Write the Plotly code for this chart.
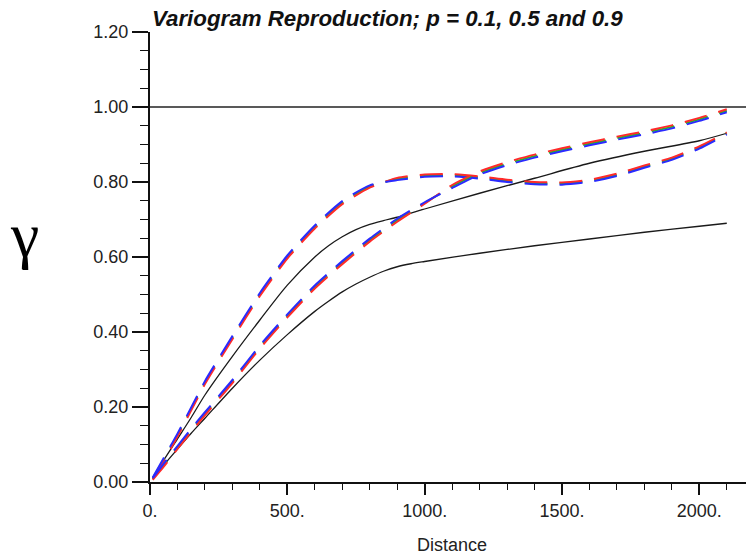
import plotly.graph_objects as go

# ---------------- data ----------------
lag = [10, 50, 100, 150, 200, 300, 400, 500, 600, 700, 800, 900, 1000,
       1100, 1200, 1300, 1400, 1500, 1600, 1700, 1800, 1900, 2000, 2100]

# fast-rising experimental variogram (hole effect), three colours
fast_red = [0.008, 0.056, 0.121, 0.191, 0.261, 0.381, 0.496, 0.596, 0.676, 0.741, 0.785, 0.811, 0.820,
            0.821, 0.815, 0.806, 0.800, 0.799, 0.806, 0.822, 0.844, 0.865, 0.895, 0.932]
fast_green = [0.010, 0.060, 0.125, 0.195, 0.265, 0.385, 0.500, 0.600, 0.680, 0.745, 0.788, 0.808, 0.817,
              0.818, 0.812, 0.803, 0.797, 0.796, 0.803, 0.819, 0.841, 0.862, 0.892, 0.930]
fast_blue = [0.012, 0.064, 0.129, 0.199, 0.269, 0.389, 0.504, 0.604, 0.684, 0.749, 0.791, 0.805, 0.814,
             0.815, 0.809, 0.800, 0.794, 0.793, 0.800, 0.816, 0.838, 0.859, 0.889, 0.927]

# slower experimental variogram, three colours
slow_red = [0.006, 0.041, 0.088, 0.134, 0.178, 0.264, 0.356, 0.439, 0.516, 0.581, 0.641, 0.694, 0.742,
            0.792, 0.828, 0.853, 0.873, 0.890, 0.906, 0.921, 0.935, 0.951, 0.971, 0.994]
slow_green = [0.008, 0.045, 0.092, 0.138, 0.182, 0.268, 0.360, 0.443, 0.520, 0.585, 0.645, 0.698, 0.744,
              0.788, 0.824, 0.849, 0.869, 0.886, 0.902, 0.917, 0.931, 0.947, 0.967, 0.990]
slow_blue = [0.010, 0.049, 0.096, 0.142, 0.186, 0.272, 0.364, 0.447, 0.524, 0.589, 0.649, 0.702, 0.746,
             0.784, 0.820, 0.845, 0.865, 0.882, 0.898, 0.913, 0.927, 0.943, 0.963, 0.986]

# model curves (solid black)
model_lag = [10, 50, 100, 150, 200, 300, 400, 500, 600, 650, 700, 750, 800, 850, 900, 950, 1000,
             1200, 1400, 1600, 1800, 2000, 2100]
model_low = [0.008, 0.045, 0.088, 0.130, 0.170, 0.250, 0.325, 0.393, 0.455, 0.482, 0.507, 0.528, 0.546,
             0.562, 0.574, 0.582, 0.588, 0.610, 0.630, 0.648, 0.666, 0.682, 0.690]
model_high = [0.010, 0.058, 0.115, 0.172, 0.232, 0.335, 0.432, 0.525, 0.600, 0.630, 0.654, 0.673, 0.687,
              0.697, 0.706, 0.717, 0.728, 0.770, 0.810, 0.850, 0.882, 0.910, 0.930]

sill = 1.0
x_max = 2170
x_ticks = [0, 500, 1000, 1500, 2000]
x_labels = ["0.", "500.", "1000.", "1500.", "2000."]
y_ticks = [0.0, 0.2, 0.4, 0.6, 0.8, 1.0, 1.2]
y_labels = ["0.00", "0.20", "0.40", "0.60", "0.80", "1.00", "1.20"]

title_text = "Variogram Reproduction; p = 0.1, 0.5 and 0.9"
x_title = "Distance"
y_title = "γ"

# ---------------- figure ----------------
fig = go.Figure()

fig.add_trace(go.Scatter(x=[0, x_max], y=[sill, sill], mode="lines",
                         line=dict(color="#222222", width=1.5), hoverinfo="skip"))
for ys in (model_low, model_high):
    fig.add_trace(go.Scatter(x=model_lag, y=ys, mode="lines",
                             line=dict(color="#1a1a1a", width=1.3, shape="spline", smoothing=0.8)))

DASH = "23px,12px"
for ys, col in ((fast_green, "#22bb22"), (fast_red, "#ff2a2a"), (fast_blue, "#2a2aff"),
                (slow_green, "#22bb22"), (slow_red, "#ff2a2a"), (slow_blue, "#2a2aff")):
    fig.add_trace(go.Scatter(x=lag, y=ys, mode="lines",
                             line=dict(color=col, width=2, dash=DASH, shape="spline", smoothing=0.6)))

font_main = "Liberation Sans, Arial, Helvetica, sans-serif"

fig.update_layout(
    width=746, height=556,
    margin=dict(l=150, r=0, t=32, b=74),
    paper_bgcolor="white", plot_bgcolor="white",
    showlegend=False,
    font=dict(family=font_main, size=18, color="#222222"),
    xaxis=dict(range=[0, x_max], tickmode="array", tickvals=x_ticks, ticktext=x_labels,
               ticks="outside", ticklen=11, tickwidth=1.5, tickcolor="#111111",
               minor=dict(tickmode="linear", tick0=0, dtick=100, ticks="outside", ticklen=6,
                          tickwidth=1.3, tickcolor="#111111"),
               showline=True, linewidth=2.2, linecolor="#111111",
               showgrid=False, zeroline=False, tickfont=dict(size=18)),
    yaxis=dict(range=[0, 1.2], tickmode="array", tickvals=y_ticks, ticktext=y_labels,
               ticks="outside", ticklen=16, tickwidth=1.5, tickcolor="#111111",
               minor=dict(tickmode="linear", tick0=0, dtick=0.05, ticks="outside", ticklen=8,
                          tickwidth=1.3, tickcolor="#111111"),
               showline=True, linewidth=2.2, linecolor="#111111",
               showgrid=False, zeroline=False, tickfont=dict(size=18)),
    annotations=[
        dict(text="<b><i>" + title_text + "</i></b>", x=0.0, y=1.031, xref="paper", yref="paper",
             xanchor="left", yanchor="middle", showarrow=False,
             font=dict(family=font_main, size=22.3, color="#111111")),
        dict(text=x_title, x=0.507, y=-0.14, xref="paper", yref="paper",
             xanchor="center", yanchor="middle", showarrow=False,
             font=dict(family=font_main, size=18, color="#222222")),
        dict(text=y_title, x=-0.21, y=0.549, xref="paper", yref="paper",
             xanchor="center", yanchor="middle", showarrow=False,
             font=dict(family="Liberation Serif", size=64, color="#000000")),
    ],
)

fig.write_html("out.html")
